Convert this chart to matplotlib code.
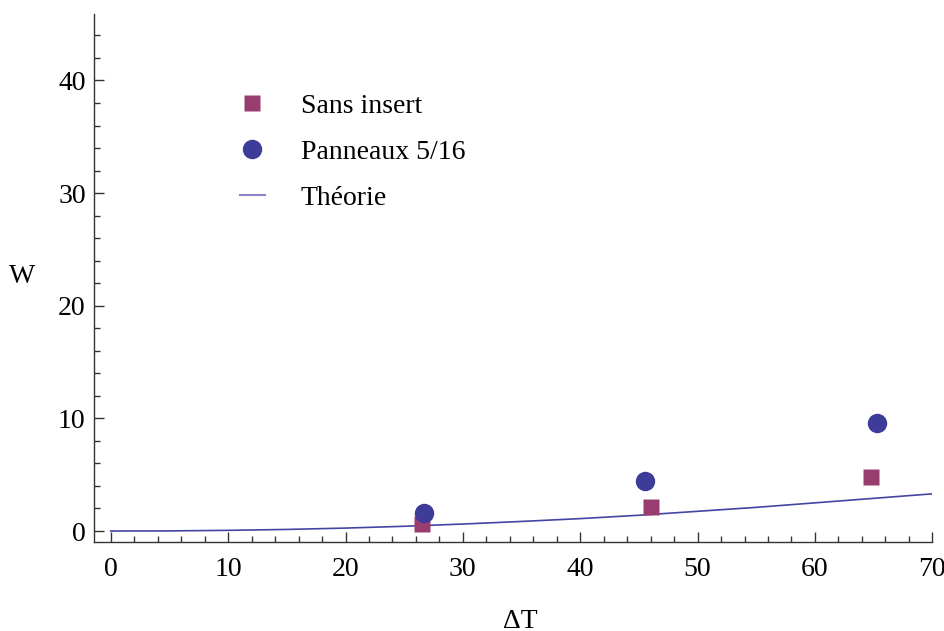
import matplotlib
matplotlib.use("Agg")
from matplotlib import pyplot as plt
from matplotlib.ticker import MultipleLocator

font = {'size': 20, 'family': 'Liberation Serif'}
matplotlib.rc('font', **font)

dt_sans = [26.5, 46.0, 64.8]
w_sans = [0.62, 2.16, 4.82]
dt_panneaux = [26.7, 45.5, 65.3]
w_panneaux = [1.57, 4.46, 9.56]

# theory curve, read at regular ΔT steps
dt_theorie = [0, 5, 10, 15, 20, 25, 30, 35, 40, 45, 50, 55, 60, 65, 70]
w_theorie = [0.0, 0.01, 0.06, 0.14, 0.26, 0.42, 0.62, 0.85, 1.1, 1.4,
             1.75, 2.1, 2.5, 2.9, 3.3]

x_ticks = [0, 10, 20, 30, 40, 50, 60, 70]
y_ticks = [0, 10, 20, 30, 40]

fig = plt.figure(figsize=(9.44, 6.31), dpi=100)
ax = fig.add_axes([0.0996, 0.1415, 0.888, 0.8363])

ax.plot(dt_theorie, w_theorie, color='#4444a4', lw=1.2, label='Théorie', zorder=2)
ax.plot(dt_sans, w_sans, 's', color='#993d6e', ms=12, mec='none',
        label='Sans insert', zorder=3)
ax.plot(dt_panneaux, w_panneaux, 'o', color='#3d3d99', ms=14, mec='none',
        label='Panneaux 5/16', zorder=3)

ax.set_xlim(-1.43, 70)
ax.set_ylim(-0.95, 45.9)
ax.set_xticks(x_ticks)
ax.set_yticks(y_ticks)
ax.xaxis.set_minor_locator(MultipleLocator(2))
ax.yaxis.set_minor_locator(MultipleLocator(2))

for side in ['top', 'right']:
    ax.spines[side].set_visible(False)
for side in ['left', 'bottom']:
    ax.spines[side].set_color('#333333')
    ax.spines[side].set_linewidth(1.0)

ax.tick_params(which='both', direction='in', color='#333333', width=1.0)
ax.tick_params(which='major', length=7.5)
ax.tick_params(which='minor', length=4.5)
ax.tick_params(axis='x', which='major', pad=11)
ax.tick_params(axis='y', which='major', pad=6)

ax.set_xlabel('ΔT', va='center')
ax.xaxis.set_label_coords(0.508, -0.152)
ax.set_ylabel('W', rotation=0, va='center', ha='center')
ax.yaxis.set_label_coords(-0.086, 0.502)

handles, labels = ax.get_legend_handles_labels()
order = [1, 2, 0]
leg = ax.legend([handles[i] for i in order], [labels[i] for i in order],
                loc='upper left', bbox_to_anchor=(0.174, 0.85), frameon=False,
                borderpad=0, borderaxespad=0, handlelength=0.9, handletextpad=1.3,
                labelspacing=0.74, numpoints=1)
leg.get_lines()[2].set_color('#8a84c6')
leg.get_lines()[2].set_linewidth(1.5)

plt.savefig('out.png', format='png', dpi=100)
